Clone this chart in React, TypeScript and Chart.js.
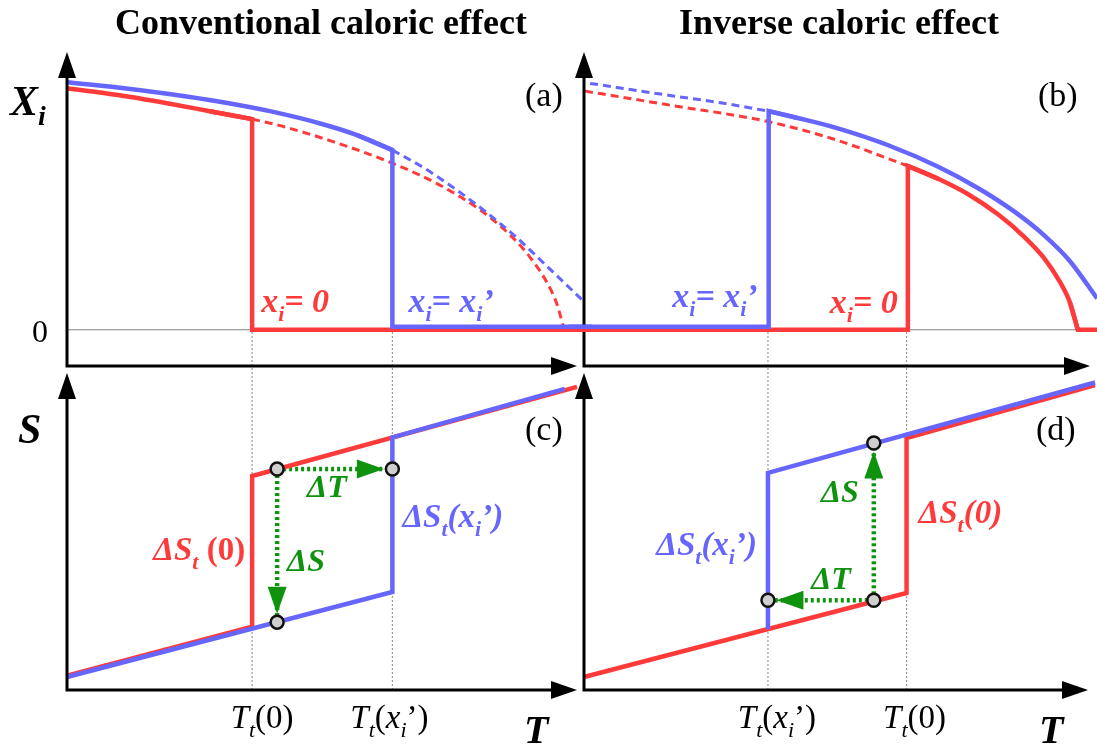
import React, { useEffect, useRef } from "react";
import { Chart, registerables } from "chart.js";

Chart.register(...registerables);

const W = 1097;
const H = 747;

const RED = "#ff3a3a";
const BLUE = "#6666ff";
const GREEN = "#0f930f";
const GUIDE = "#9a9a9a";
const ZERO = "#808080";
const SERIF = '"Liberation Serif", "DejaVu Serif", serif';

// ---------- Conventional caloric effect ----------
const convTt0 = 0.363; // T_t(0)
const convTtx = 0.638; // T_t(x_i')

// (a) order parameter, x_i = 0 branch
const aRedT = [0, 0.1, 0.196, 0.28, 0.363];
const aRedX = [1.0, 0.972, 0.938, 0.905, 0.872];
const aRedDashT = [0.363, 0.418, 0.52, 0.633, 0.73, 0.81, 0.87, 0.908, 0.94, 0.96, 0.975];
const aRedDashX = [0.872, 0.845, 0.78, 0.694, 0.6, 0.496, 0.39, 0.3, 0.2, 0.11, 0.0];
// (a) order parameter, x_i = x_i' branch
const aBlueT = [0, 0.1, 0.2, 0.3, 0.4, 0.5, 0.57, 0.638];
const aBlueX = [1.025, 1.003, 0.976, 0.944, 0.904, 0.852, 0.805, 0.744];
const aBlueDashT = [0.638, 0.7, 0.76, 0.82, 0.88, 0.94, 1.012];
const aBlueDashX = [0.744, 0.67, 0.585, 0.49, 0.385, 0.265, 0.12];

// (c) entropy curves
const cRedT = [0, 0.363, 0.363, 1.0];
const cRedS = [0.045, 0.2, 0.675, 0.956];
const cBlueT = [0, 0.638, 0.638, 0.976];
const cBlueS = [0.041, 0.309, 0.797, 0.95];
const cStateT = [0.412, 0.412, 0.638];
const cStateS = [0.697, 0.214, 0.697];

// ---------- Inverse caloric effect ----------
const invTtx = 0.365; // T_t(x_i')
const invTt0 = 0.64; // T_t(0)

// (b) order parameter, x_i = 0 branch
const bRedDashT = [0.002, 0.17, 0.368, 0.5, 0.64];
const bRedDashX = [0.988, 0.93, 0.86, 0.785, 0.678];
const bRedT = [0.64, 0.7, 0.76, 0.82, 0.87, 0.91, 0.94, 0.96, 0.976];
const bRedX = [0.678, 0.625, 0.56, 0.475, 0.385, 0.295, 0.2, 0.115, 0.0];
// (b) order parameter, x_i = x_i' branch
const bBlueDashT = [0.012, 0.17, 0.27, 0.365];
const bBlueDashX = [1.02, 0.97, 0.94, 0.905];
const bBlueT = [0.365, 0.42, 0.5, 0.6, 0.7, 0.78, 0.85, 0.91, 0.96, 1.014];
const bBlueX = [0.905, 0.878, 0.835, 0.765, 0.675, 0.585, 0.49, 0.39, 0.285, 0.13];

// (d) entropy curves
const dRedT = [0, 0.64, 0.64, 1.014];
const dRedS = [0.041, 0.306, 0.795, 0.962];
const dBlueT = [0.365, 0.365, 1.014];
const dBlueS = [0.192, 0.685, 0.97];
const dStateT = [0.575, 0.575, 0.365];
const dStateS = [0.779, 0.283, 0.283];

// shared levels
const blueBaseX = 0.012; // low-temperature state of the x_i' branch
const lineEndT = 1.03;
const lineStartT = -0.03;
const guideTopS = 1.136;

type P = { x: number; y: number };
const pts = (xs: number[], ys: number[]): P[] => xs.map((x, i) => ({ x, y: ys[i] }));

const base = { showLine: true, pointRadius: 0, fill: false, clip: false as any };
const solid = (data: P[], color: string, order: number, curved = false) => ({
  ...base,
  data,
  borderColor: color,
  borderWidth: 4.5,
  tension: curved ? 0.4 : 0,
  cubicInterpolationMode: curved ? "monotone" : "default",
  order,
});
const dashed = (data: P[], color: string, order: number) => ({
  ...base,
  data,
  borderColor: color,
  borderWidth: 3,
  borderDash: [8, 5],
  tension: 0.4,
  cubicInterpolationMode: "monotone",
  order,
});
const thin = (data: P[], color: string, order: number, dash: number[] = []) => ({
  ...base,
  data,
  borderColor: color,
  borderWidth: 1.2,
  borderDash: dash,
  order,
});
const dots = (data: P[], order: number) => ({
  ...base,
  data,
  borderColor: GREEN,
  borderWidth: 4.5,
  borderDash: [3, 3],
  order,
});
const markers = (data: P[]) => ({
  data,
  showLine: false,
  pointRadius: 6.5,
  pointBackgroundColor: "#cfcfcf",
  pointBorderColor: "#111",
  pointBorderWidth: 2.5,
  order: 0,
  clip: false as any,
});

const R = (s: number) => `${s}px ${SERIF}`;
const I = (s: number) => `italic ${s}px ${SERIF}`;
const B = (s: number) => `bold ${s}px ${SERIF}`;
const BI = (s: number) => `bold italic ${s}px ${SERIF}`;

type Run = { t: string; f: string; dy?: number };
function text(
  ctx: CanvasRenderingContext2D,
  x: number,
  y: number,
  runs: Run[],
  color: string,
  align: "left" | "center" | "right" = "left"
) {
  let w = 0;
  for (const r of runs) {
    ctx.font = r.f;
    w += ctx.measureText(r.t).width;
  }
  let cx = align === "left" ? x : align === "center" ? x - w / 2 : x - w;
  ctx.fillStyle = color;
  ctx.textAlign = "left";
  ctx.textBaseline = "alphabetic";
  for (const r of runs) {
    ctx.font = r.f;
    ctx.fillText(r.t, cx, y + (r.dy || 0));
    cx += ctx.measureText(r.t).width;
  }
}

function head(ctx: CanvasRenderingContext2D, tx: number, ty: number, dx: number, dy: number, len: number, hw: number, color: string) {
  const bx = tx - dx * len;
  const by = ty - dy * len;
  ctx.fillStyle = color;
  ctx.beginPath();
  ctx.moveTo(tx, ty);
  ctx.lineTo(bx - dy * hw, by + dx * hw);
  ctx.lineTo(bx + dy * hw, by - dx * hw);
  ctx.closePath();
  ctx.fill();
}

function axes(ctx: CanvasRenderingContext2D, a: any) {
  const L = 26;
  ctx.strokeStyle = "#000";
  ctx.lineWidth = 3;
  ctx.lineJoin = "miter";
  ctx.setLineDash([]);
  ctx.beginPath();
  ctx.moveTo(a.left, a.top + L - 2);
  ctx.lineTo(a.left, a.bottom);
  ctx.lineTo(a.right - L + 2, a.bottom);
  ctx.stroke();
  head(ctx, a.left, a.top, 0, -1, L, 9, "#000");
  head(ctx, a.right, a.bottom, 1, 0, L, 9, "#000");
}

// arrow between two state markers, tip stopping at the target marker's rim
function stateArrow(ctx: CanvasRenderingContext2D, chart: any, from: P, to: P) {
  const xs = chart.scales.x;
  const ys = chart.scales.y;
  const x0 = xs.getPixelForValue(from.x), y0 = ys.getPixelForValue(from.y);
  const x1 = xs.getPixelForValue(to.x), y1 = ys.getPixelForValue(to.y);
  const d = Math.hypot(x1 - x0, y1 - y0);
  const ux = (x1 - x0) / d, uy = (y1 - y0) / d;
  head(ctx, x1 - ux * 8.5, y1 - uy * 8.5, ux, uy, 27, 9.5, GREEN);
}

const sub = (t: string, s = 22, dy = 9, bold = true): Run => ({ t, f: bold ? BI(s) : I(s), dy });
const xiZero: Run[] = [{ t: "x", f: BI(34) }, sub("i"), { t: "= 0", f: BI(34) }];
const xiPrime: Run[] = [{ t: "x", f: BI(34) }, sub("i"), { t: "= x", f: BI(34) }, sub("i"), { t: "’", f: BI(34) }];
const ttZero: Run[] = [{ t: "T", f: I(33) }, sub("t", 22, 9, false), { t: "(0)", f: R(33) }];
const ttPrime: Run[] = [{ t: "T", f: I(33) }, sub("t", 22, 9, false), { t: "(", f: R(33) }, { t: "x", f: I(33) }, sub("i", 22, 9, false), { t: "’)", f: R(33) }];
const dsPrime: Run[] = [{ t: "ΔS", f: BI(33) }, sub("t"), { t: "(x", f: BI(33) }, sub("i"), { t: "’)", f: BI(33) }];

function makeChart(canvas: HTMLCanvasElement, datasets: any[], padding: any, yMin: number, yMax: number, draw: (ctx: CanvasRenderingContext2D, chart: any) => void) {
  return new Chart(canvas, {
    type: "scatter",
    data: { datasets },
    options: {
      animation: false,
      responsive: false,
      devicePixelRatio: 1,
      events: [],
      layout: { padding },
      scales: {
        x: { type: "linear", min: 0, max: 1, display: false },
        y: { type: "linear", min: yMin, max: yMax, display: false },
      },
      plugins: { legend: { display: false }, tooltip: { enabled: false }, title: { display: false } },
    } as any,
    plugins: [
      {
        id: "decor",
        afterDatasetsDraw(chart: any) {
          const ctx = chart.ctx;
          ctx.save();
          draw(ctx, chart);
          ctx.restore();
        },
      },
    ],
  });
}

export default function App() {
  const ra = useRef<HTMLCanvasElement>(null);
  const rb = useRef<HTMLCanvasElement>(null);
  const rc = useRef<HTMLCanvasElement>(null);
  const rd = useRef<HTMLCanvasElement>(null);

  useEffect(() => {
    const top = { top: 52, bottom: H - 366 };
    const bot = { top: 373, bottom: H - 690 };
    const left = { left: 67, right: W - 577 };
    const right = { left: 584, right: W - 1090 };

    const redA = pts(aRedT, aRedX);
    const blueA = pts(aBlueT, aBlueX);
    const chartA = makeChart(
      ra.current!,
      [
        solid(blueA, BLUE, 1, true),
        solid([...blueA.slice(-2), { x: convTtx, y: blueBaseX }, { x: lineEndT, y: blueBaseX }], BLUE, 2),
        solid(redA, RED, 3, true),
        solid([...redA.slice(-2), { x: convTt0, y: 0 }, { x: lineEndT, y: 0 }], RED, 4),
        dashed(pts(aBlueDashT, aBlueDashX), BLUE, 5),
        dashed(pts(aRedDashT, aRedDashX), RED, 6),
        thin([{ x: 0, y: 0 }, { x: 1, y: 0 }], ZERO, 9),
      ],
      { ...left, ...top },
      -0.15,
      1.15,
      (ctx, chart) => {
        const A = chart.chartArea;
        const xs = chart.scales.x;
        const ys = chart.scales.y;
        axes(ctx, A);
        text(ctx, 321, 34, [{ t: "Conventional caloric effect", f: B(36) }], "#000", "center");
        text(ctx, 10, 115, [{ t: "X", f: BI(42) }, { t: "i", f: BI(28), dy: 10 }], "#000");
        text(ctx, A.left - 19, ys.getPixelForValue(0) + 12, [{ t: "0", f: R(32) }], "#000", "right");
        text(ctx, A.right - 52, 106, [{ t: "(a)", f: R(34) }], "#000");
        text(ctx, xs.getPixelForValue(convTt0) + 9, 312, xiZero, RED);
        text(ctx, xs.getPixelForValue(convTtx) + 16, 312, xiPrime, BLUE);
      }
    );

    const redB = pts(bRedT, bRedX);
    const blueB = pts(bBlueT, bBlueX);
    const chartB = makeChart(
      rb.current!,
      [
        solid(blueB, BLUE, 1, true),
        solid([{ x: lineStartT, y: blueBaseX }, { x: invTtx, y: blueBaseX }, blueB[0], blueB[1]], BLUE, 2),
        solid(redB, RED, 3, true),
        solid([{ x: lineStartT, y: 0 }, { x: invTt0, y: 0 }, redB[0], redB[1]], RED, 4),
        solid([redB[redB.length - 2], redB[redB.length - 1], { x: lineEndT, y: 0 }], RED, 4),
        dashed(pts(bBlueDashT, bBlueDashX), BLUE, 5),
        dashed(pts(bRedDashT, bRedDashX), RED, 6),
        thin([{ x: 0, y: 0 }, { x: 1, y: 0 }], ZERO, 9),
      ],
      { ...right, ...top },
      -0.15,
      1.15,
      (ctx, chart) => {
        const A = chart.chartArea;
        const xs = chart.scales.x;
        axes(ctx, A);
        text(ctx, 839, 34, [{ t: "Inverse caloric effect", f: B(36) }], "#000", "center");
        text(ctx, A.right - 52, 106, [{ t: "(b)", f: R(34) }], "#000");
        text(ctx, xs.getPixelForValue(invTtx) - 11, 307, xiPrime, BLUE, "right");
        text(ctx, xs.getPixelForValue(invTt0) - 10, 313, xiZero, RED, "right");
      }
    );

    const cStates = pts(cStateT, cStateS);
    const chartC = makeChart(
      rc.current!,
      [
        markers(cStates),
        solid(pts(cBlueT, cBlueS), BLUE, 2),
        solid(pts(cRedT, cRedS), RED, 3),
        dots([cStates[0], cStates[1]], 4),
        dots([cStates[0], cStates[2]], 4),
        thin([{ x: convTt0, y: 0 }, { x: convTt0, y: guideTopS }], GUIDE, 9, [2, 2]),
        thin([{ x: convTtx, y: 0 }, { x: convTtx, y: guideTopS }], GUIDE, 9, [2, 2]),
      ],
      { ...left, ...bot },
      0,
      1,
      (ctx, chart) => {
        const A = chart.chartArea;
        const xs = chart.scales.x;
        stateArrow(ctx, chart, cStates[0], cStates[1]);
        stateArrow(ctx, chart, cStates[0], cStates[2]);
        axes(ctx, A);
        text(ctx, 18, 443, [{ t: "S", f: BI(42) }], "#000");
        text(ctx, A.right - 52, 440, [{ t: "(c)", f: R(34) }], "#000");
        text(ctx, A.right - 53, 743, [{ t: "T", f: BI(40) }], "#000");
        text(ctx, xs.getPixelForValue(convTt0) + 10, 728, ttZero, "#000", "center");
        text(ctx, xs.getPixelForValue(convTtx) - 3, 728, ttPrime, "#000", "center");
        text(ctx, xs.getPixelForValue(convTt0) - 7, 560, [{ t: "ΔS", f: BI(33) }, sub("t"), { t: " (0)", f: B(33) }], RED, "right");
        text(ctx, xs.getPixelForValue(convTtx) + 10, 527, dsPrime, BLUE);
        text(ctx, xs.getPixelForValue(cStateT[0]) + 30, 497, [{ t: "ΔT", f: BI(32) }], GREEN);
        text(ctx, xs.getPixelForValue(cStateT[0]) + 10, 571, [{ t: "ΔS", f: BI(32) }], GREEN);
      }
    );

    const dStates = pts(dStateT, dStateS);
    const chartD = makeChart(
      rd.current!,
      [
        markers(dStates),
        solid(pts(dBlueT, dBlueS), BLUE, 2),
        solid(pts(dRedT, dRedS), RED, 3),
        dots([dStates[1], dStates[0]], 4),
        dots([dStates[1], dStates[2]], 4),
        thin([{ x: invTtx, y: 0 }, { x: invTtx, y: guideTopS }], GUIDE, 9, [2, 2]),
        thin([{ x: invTt0, y: 0 }, { x: invTt0, y: guideTopS }], GUIDE, 9, [2, 2]),
      ],
      { ...right, ...bot },
      0,
      1,
      (ctx, chart) => {
        const A = chart.chartArea;
        const xs = chart.scales.x;
        stateArrow(ctx, chart, dStates[1], dStates[0]);
        stateArrow(ctx, chart, dStates[1], dStates[2]);
        axes(ctx, A);
        text(ctx, A.right - 52, 440, [{ t: "(d)", f: R(34) }], "#000");
        text(ctx, A.right - 49, 743, [{ t: "T", f: BI(40) }], "#000");
        text(ctx, xs.getPixelForValue(invTtx) + 9, 728, ttPrime, "#000", "center");
        text(ctx, xs.getPixelForValue(invTt0) + 8, 728, ttZero, "#000", "center");
        text(ctx, xs.getPixelForValue(dStateT[0]) - 15, 502, [{ t: "ΔS", f: BI(32) }], GREEN, "right");
        text(ctx, xs.getPixelForValue(dStateT[0]) - 23, 589, [{ t: "ΔT", f: BI(32) }], GREEN, "right");
        text(ctx, xs.getPixelForValue(invTt0) + 12, 523, [{ t: "ΔS", f: BI(33) }, sub("t"), { t: "(0)", f: BI(33) }], RED);
        text(ctx, xs.getPixelForValue(invTtx) - 11, 555, dsPrime, BLUE, "right");
      }
    );

    return () => {
      chartA.destroy();
      chartB.destroy();
      chartC.destroy();
      chartD.destroy();
    };
  }, []);

  const cs: React.CSSProperties = { position: "absolute", left: 0, top: 0 };
  return (
    <div style={{ position: "absolute", left: 0, top: 0, width: W, height: H, background: "#fff", overflow: "hidden" }}>
      <canvas ref={rd} width={W} height={H} style={cs} />
      <canvas ref={rc} width={W} height={H} style={cs} />
      <canvas ref={rb} width={W} height={H} style={cs} />
      <canvas ref={ra} width={W} height={H} style={cs} />
    </div>
  );
}
